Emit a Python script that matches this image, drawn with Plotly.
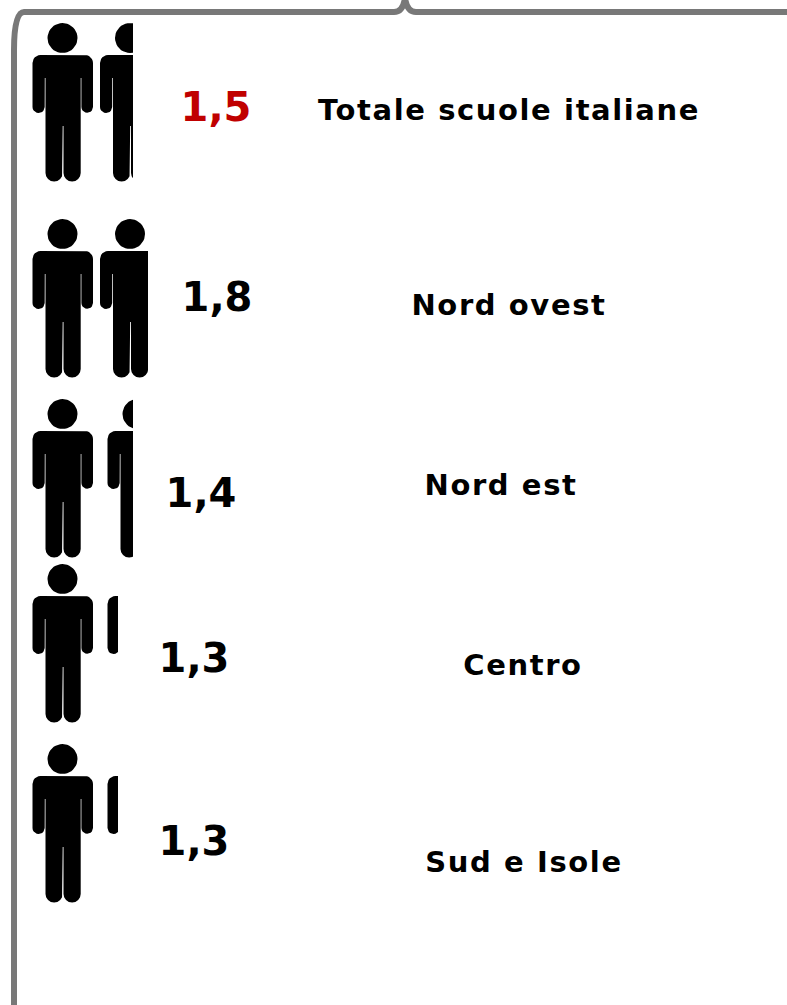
import math
import plotly.graph_objects as go

# --- data
areas = ["Totale scuole italiane", "Nord ovest", "Nord est", "Centro", "Sud e Isole"]
values = [1.5, 1.8, 1.4, 1.3, 1.3]
value_labels = ["1,5", "1,8", "1,4", "1,3", "1,3"]
value_colors = ["#c00000", "#000000", "#000000", "#000000", "#000000"]

# --- layout, in page pixels
W, H = 787, 1005
row_head_y = [38, 234, 414, 579, 759]
person_x = 62.5
person_step = [67.5, 67.5, 75, 75, 75]
clip_x = [133, 148, 133, 118, 118]
value_pos = [(216, 111), (217, 301), (201, 497), (194, 662), (194, 845)]
label_pos = [(509, 113), (509, 308), (501, 488), (523, 668), (524, 865)]
FRAME = "#787878"


def arc(cx, cy, r, a0, a1, n=10):
    return [(cx + r * math.cos(math.radians(a0 + (a1 - a0) * i / n)),
             cy + r * math.sin(math.radians(a0 + (a1 - a0) * i / n))) for i in range(n + 1)]


def person_outline():
    """Silhouette relative to head centre; y grows downwards."""
    head = arc(0, 0, 15, 0, 360, 40)
    b = []
    b += arc(-22, 25, 8, 180, 270, 6)          # left shoulder
    b += arc(22.5, 25, 8, 270, 360, 6)         # right shoulder
    b += arc(24.7, 69, 5.8, 0, 180, 10)        # right hand
    b += [(18.9, 40), (18.2, 40)]              # right arm gap
    b += arc(9.6, 135, 8.6, 0, 180, 8)         # right foot
    b += [(1.0, 88), (0.2, 88)]                # leg gap
    b += arc(-8.4, 135, 8.6, 0, 180, 8)        # left foot
    b += [(-17.0, 40), (-17.7, 40)]            # left arm gap
    b += arc(-23.9, 69, 6.1, 0, 180, 10)       # left hand
    return [head, b]


def clip_right(poly, xmax):
    """Sutherland-Hodgman against the vertical line x = xmax."""
    out = []
    for i, p in enumerate(poly):
        q = poly[(i + 1) % len(poly)]
        pin, qin = p[0] <= xmax, q[0] <= xmax
        if pin:
            out.append(p)
        if pin != qin:
            t = (xmax - p[0]) / (q[0] - p[0])
            out.append((xmax, p[1] + t * (q[1] - p[1])))
    return out


fig = go.Figure()
parts = person_outline()
for r, val in enumerate(values):
    xs, ys = [], []
    for k in range(math.ceil(val)):
        x0 = person_x + k * person_step[r]
        for part in parts:
            placed = [(x0 + px, row_head_y[r] + py) for px, py in part]
            placed = clip_right(placed, clip_x[r])
            if placed:
                placed.append(placed[0])
                xs += [p[0] for p in placed] + [None]
                ys += [p[1] for p in placed] + [None]
    fig.add_trace(go.Scatter(x=xs, y=ys, mode="lines", fill="toself", fillcolor="#000000",
                             line=dict(width=0, color="#000000"), hoverinfo="skip",
                             showlegend=False, name=areas[r]))

fig.add_trace(go.Scatter(
    x=[p[0] for p in value_pos], y=[p[1] for p in value_pos], mode="text",
    text=[f"<b>{t}</b>" for t in value_labels],
    textfont=dict(family="DejaVu Sans", size=40, color=value_colors),
    textposition="middle center", showlegend=False, hoverinfo="skip"))
fig.add_trace(go.Scatter(
    x=[p[0] for p in label_pos], y=[p[1] for p in label_pos], mode="text",
    text=[f"<b>{t}</b>" for t in areas],
    textfont=dict(family="DejaVu Sans", size=29, color="#000000"),
    textposition="middle center", showlegend=False, hoverinfo="skip"))

fig.update_layout(
    width=W, height=H, margin=dict(l=0, r=0, t=0, b=0),
    paper_bgcolor="#ffffff", plot_bgcolor="#ffffff", showlegend=False,
    xaxis=dict(range=[0, W], visible=False, fixedrange=True),
    yaxis=dict(range=[H, 0], visible=False, fixedrange=True),
    shapes=[dict(type="path", xref="x", yref="y", layer="below",
                 path="M 790,12 L 416,12 Q 407,12 405,-2 Q 403,12 394,12 L 24,12 "
                      "Q 14,12 14,50 L 14,1010",
                 line=dict(color=FRAME, width=6))],
)
post = """
document.body.style.margin = '0';
document.documentElement.style.overflow = 'hidden';
document.querySelectorAll('.textpoint text').forEach(function (t) {
  if (parseFloat(t.style.fontSize) < 35) { t.style.letterSpacing = '1.6px'; }
});
"""
fig.write_html("out.html", config=dict(displayModeBar=False), post_script=post)
